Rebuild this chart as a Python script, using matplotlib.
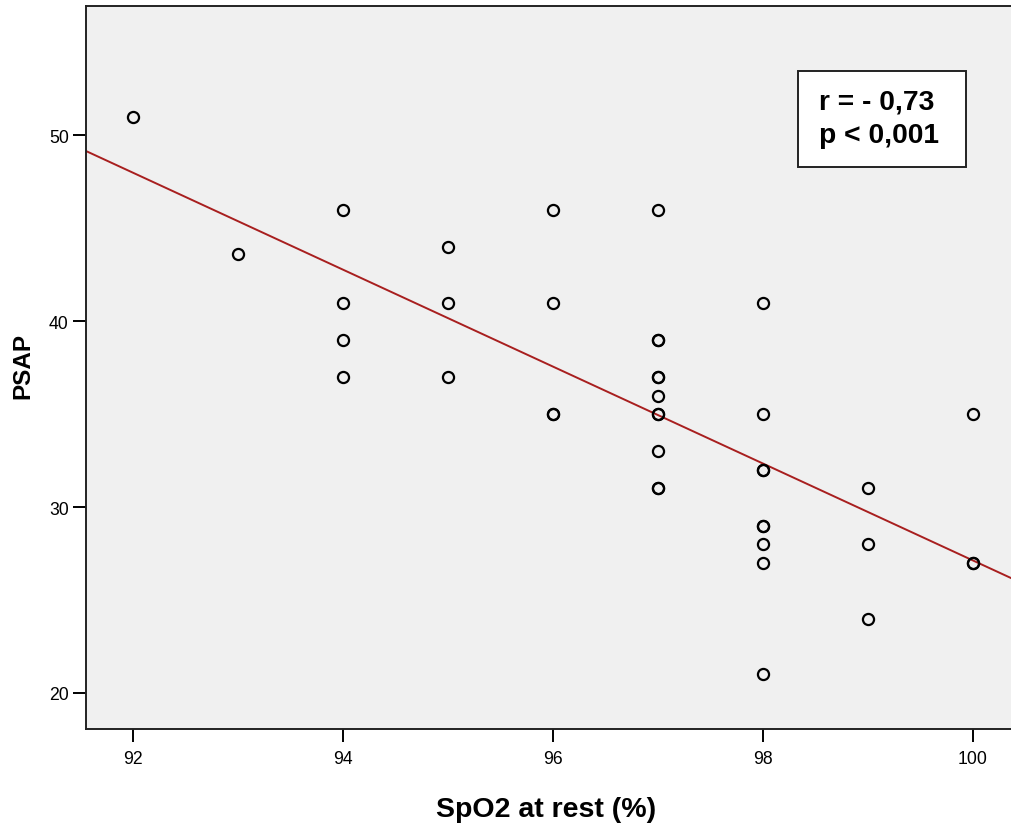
import numpy as np
import matplotlib
matplotlib.use("Agg")
import matplotlib.pyplot as plt
from matplotlib.patches import Rectangle

# Data
spo2 = [92, 93,
        94, 94, 94, 94,
        95, 95, 95,
        96, 96, 96, 96,
        97, 97, 97, 97, 97, 97, 97, 97, 97, 97, 97,
        98, 98, 98, 98, 98, 98, 98, 98, 98,
        99, 99, 99,
        100, 100, 100]
psap = [51, 43.6,
        46, 41, 39, 37,
        44, 41, 37,
        46, 41, 35, 35,
        46, 39, 39, 37, 37, 36, 35, 35, 33, 31, 31,
        41, 35, 32, 32, 29, 29, 28, 27, 21,
        31, 28, 24,
        35, 27, 27]
x_ticks = [92, 94, 96, 98, 100]
y_ticks = [20, 30, 40, 50]
stats_lines = ["r = - 0,73", "p < 0,001"]

plt.rcParams['font.family'] = ['Liberation Sans', 'DejaVu Sans']

W, H = 1011, 828
fig = plt.figure(figsize=(W / 100, H / 100), dpi=100)
fig.patch.set_facecolor('white')
ax = fig.add_axes([86 / W, 1 - 730 / H, (1011 - 86) / W, (730 - 7) / H])
ax.set_facecolor('#f0f0f0')

ax.set_xlim(91.555, 100.365)
ax.set_ylim(18.06, 56.96)

x = np.array(spo2, dtype=float)
y = np.array(psap, dtype=float)
slope, intercept = np.polyfit(x, y, 1)
xl = np.array(ax.get_xlim())
ax.plot(xl, slope * xl + intercept, color='#a81f1f', lw=1.4, zorder=2)

ax.plot(x, y, linestyle='none', marker='o', markersize=8.0,
        markerfacecolor='none', markeredgecolor='black', markeredgewidth=1.6, zorder=3)

ax.set_xticks(x_ticks)
ax.set_yticks(y_ticks)
ax.tick_params(axis='both', direction='out', length=9.4, width=1.4, labelsize=12.7, colors='black')
ax.tick_params(axis='x', pad=6)
ax.tick_params(axis='y', pad=3)

for s in ['left', 'bottom', 'top']:
    ax.spines[s].set_linewidth(1.4)
    ax.spines[s].set_color('#222222')
ax.spines['right'].set_visible(False)

fig.text(546 / W, 1 - 817 / H, "SpO2 at rest (%)", ha='center', va='baseline',
         fontsize=20.5, fontweight='bold')
fig.text(23 / W, 1 - 366 / H, "PSAP", ha='center', va='center', rotation=90,
         fontsize=17.5, fontweight='bold')

# stats box
fig.patches.append(Rectangle((798 / W, 1 - 168 / H), (966 - 798) / W, (168 - 72) / H,
                             transform=fig.transFigure, facecolor='white',
                             edgecolor='#222222', linewidth=1.4, zorder=5))
fig.text(819 / W, 1 - 110 / H, stats_lines[0], ha='left', va='baseline',
         fontsize=20.3, fontweight='bold', zorder=6)
fig.text(819 / W, 1 - 143 / H, stats_lines[1], ha='left', va='baseline',
         fontsize=20.3, fontweight='bold', zorder=6)

fig.savefig('out.png', dpi=100)
